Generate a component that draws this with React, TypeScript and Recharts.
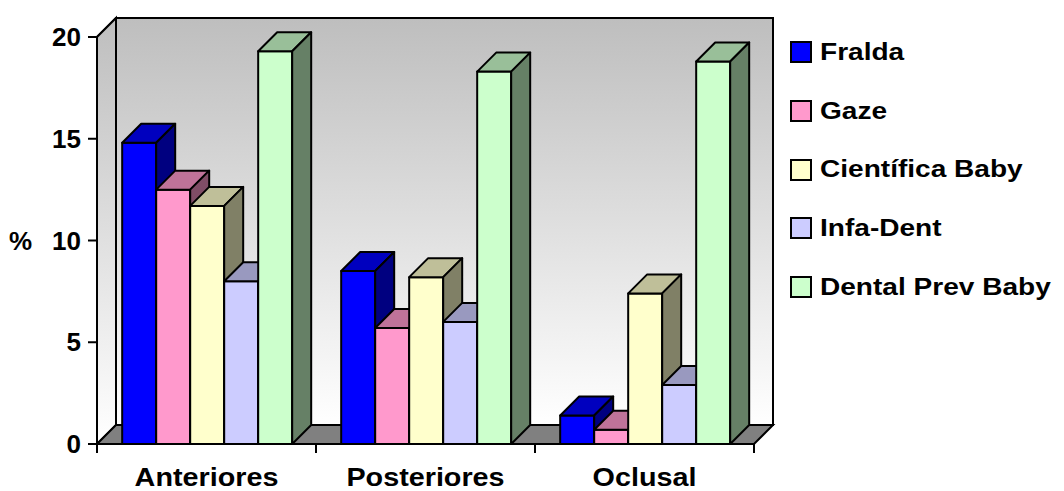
import React from 'react'
import {
  BarChart, Bar, XAxis, YAxis, CartesianGrid, ReferenceArea,
} from 'recharts'

const categories = ['Anteriores', 'Posteriores', 'Oclusal']
const seriesNames = ['Fralda', 'Gaze', 'Científica Baby', 'Infa-Dent', 'Dental Prev Baby']
const fralda = [14.8, 8.5, 1.4]
const gaze = [12.5, 5.7, 0.7]
const cientifica = [11.7, 8.2, 7.4]
const infaDent = [8.0, 6.0, 2.9]
const dentalPrev = [19.3, 18.3, 18.8]
const yTicks = [0, 5, 10, 15, 20]

const seriesValues = [fralda, gaze, cientifica, infaDent, dentalPrev]
const keys = ['s0', 's1', 's2', 's3', 's4']

// front / top / side faces
const FACES = [
  ['#0000FF', '#0000BF', '#000080'],
  ['#FF99CC', '#BF7399', '#804D66'],
  ['#FFFFCC', '#BFBF99', '#808066'],
  ['#CCCCFF', '#9999BF', '#666680'],
  ['#CCFFCC', '#99BF99', '#668066'],
]

const data = categories.map((name, i) => {
  const row: Record<string, any> = { name }
  seriesValues.forEach((vals, s) => { row[keys[s]] = vals[i] })
  return row
})

const W = 1064
const H = 491
const LEFT = 97
const RIGHT = 754
const DX = 19
const DY = 19
const FONT = '"Liberation Sans", Arial, sans-serif'

const Bar3D = ({ x, y, width, height, faces }: any) => {
  if (width == null || height == null) return null
  const [front, top, side] = faces
  const st = { stroke: '#000', strokeWidth: 2, strokeLinejoin: 'round' as const }
  return (
    <g>
      <rect x={x} y={y} width={width} height={height} fill={front} {...st} />
      <polygon
        points={`${x},${y} ${x + DX},${y - DY} ${x + width + DX},${y - DY} ${x + width},${y}`}
        fill={top} {...st}
      />
      <polygon
        points={`${x + width},${y} ${x + width + DX},${y - DY} ${x + width + DX},${y + height - DY} ${x + width},${y + height}`}
        fill={side} {...st}
      />
    </g>
  )
}

const Walls = ({ x, y, width, height }: any) => {
  const b = y + height
  return (
    <g>
      <defs>
        <linearGradient id="wallGrad" x1="0" y1="0" x2="0" y2="1">
          <stop offset="0%" stopColor="#BEBEBE" />
          <stop offset="100%" stopColor="#FFFFFF" />
        </linearGradient>
      </defs>
      <rect x={x + DX} y={y - DY} width={width} height={height} fill="url(#wallGrad)" stroke="#000" strokeWidth={2} />
      <polygon
        points={`${x},${y} ${x + DX},${y - DY} ${x + DX},${b - DY} ${x},${b}`}
        fill="url(#wallGrad)" stroke="#000" strokeWidth={2}
      />
      <polygon
        points={`${x},${b} ${x + DX},${b - DY} ${x + width + DX},${b - DY} ${x + width},${b}`}
        fill="#808080" stroke="#000" strokeWidth={2}
      />
    </g>
  )
}

const gridLine = (p: any) => (
  <g key={p.key}>
    <line x1={p.x1} y1={p.y1} x2={p.x1 + DX} y2={p.y1 - DY} stroke="#000" strokeWidth={2} />
    <line x1={p.x1 + DX} y1={p.y1 - DY} x2={p.x2 + DX} y2={p.y1 - DY} stroke="#000" strokeWidth={2} />
  </g>
)

const BAND = (RIGHT - LEFT) / categories.length

const XTick = ({ x, y, payload, index }: any) => {
  const axisY = y - 24
  return (
    <g>
      <line x1={x - BAND / 2} y1={axisY} x2={x - BAND / 2} y2={axisY + 9} stroke="#000" strokeWidth={2} />
      {index === categories.length - 1 && (
        <line x1={x + BAND / 2} y1={axisY} x2={x + BAND / 2} y2={axisY + 9} stroke="#000" strokeWidth={2} />
      )}
      <text
        transform={`translate(${x},${y + 18}) scale(1.15,1)`} textAnchor="middle"
        fontFamily={FONT} fontWeight="bold" fontSize={25} fill="#000"
      >
        {payload.value}
      </text>
    </g>
  )
}

export default function App() {
  return (
    <div style={{ position: 'absolute', left: 0, top: 0, width: W, height: H, background: '#fff' }}>
      <BarChart
        width={W} height={H} data={data}
        margin={{ top: 37, right: W - RIGHT, bottom: 0, left: 0 }}
        barGap={0} barCategoryGap="11.5%"
      >
        <ReferenceArea y1={0} y2={20} shape={<Walls />} ifOverflow="visible" />
        <CartesianGrid horizontal={gridLine} vertical={false} />
        <XAxis
          dataKey="name" height={47}
          axisLine={{ stroke: '#000', strokeWidth: 2 }}
          tickLine={false} tickSize={9} tickMargin={15}
          tick={<XTick />} interval={0}
        />
        <YAxis
          width={LEFT} domain={[0, 20]} ticks={yTicks} interval={0}
          axisLine={{ stroke: '#000', strokeWidth: 2 }}
          tickLine={{ stroke: '#000', strokeWidth: 2 }}
          tickSize={9} tickMargin={7}
          tick={{ fill: '#000', fontSize: 26, fontWeight: 'bold', fontFamily: FONT }}
          label={{ value: '%', position: 'insideLeft', offset: 9, fill: '#000', fontSize: 26, fontWeight: 'bold', fontFamily: FONT }}
        />
        {keys.map((k, s) => (
          <Bar
            key={k} dataKey={k} name={seriesNames[s]}
            isAnimationActive={false}
            shape={(props: any) => <Bar3D {...props} faces={FACES[s]} />}
          />
        ))}
      </BarChart>
      <div style={{ position: 'absolute', left: 790, top: 23, fontFamily: FONT }}>
        {seriesNames.map((n, s) => (
          <div key={n} style={{ display: 'flex', alignItems: 'center', height: 58.7 }}>
            <div style={{
              width: 18, height: 18, background: FACES[s][0],
              border: '2px solid #000', marginRight: 8,
            }} />
            <span style={{
              fontSize: 23, fontWeight: 'bold', color: '#000',
              display: 'inline-block', transform: 'scaleX(1.22)', transformOrigin: 'left center',
              whiteSpace: 'nowrap',
            }}>{n}</span>
          </div>
        ))}
      </div>
    </div>
  )
}
